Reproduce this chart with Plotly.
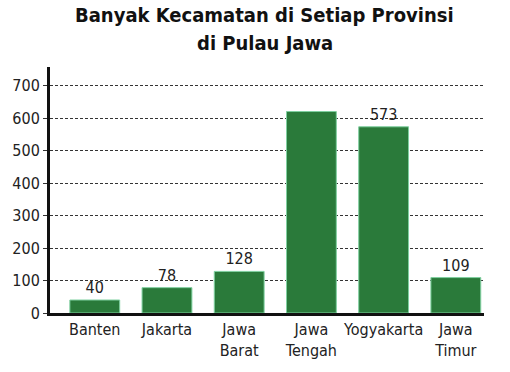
import plotly.graph_objects as go

categories = ["Banten", "Jakarta", "Jawa<br>Barat", "Jawa<br>Tengah", "Yogyakarta", "Jawa<br>Timur"]
values = [40, 78, 128, 620, 573, 109]
labels = ["40", "78", "128", "", "573", "109"]
y_ticks = [0, 100, 200, 300, 400, 500, 600, 700]
title_lines = ["Banyak Kecamatan di Setiap Provinsi", "di Pulau Jawa"]

narrow = "DejaVu Sans Condensed, Liberation Sans Narrow, sans-serif"

fig = go.Figure(go.Bar(
    x=list(range(len(categories))),
    y=values,
    text=labels,
    textposition="outside",
    cliponaxis=False,
    textfont=dict(family=narrow, size=16, color="#222222"),
    marker=dict(color="#2a7a3a", line=dict(color="#7fd0a0", width=1)),
    width=0.69,
))

for i, (line, yy) in enumerate(zip(title_lines, [1.212, 1.097])):
    fig.add_annotation(
        text="<b>" + line + "</b>", xref="paper", yref="paper",
        x=0.495, y=yy, xanchor="center", yanchor="middle", showarrow=False,
        font=dict(family="DejaVu Sans Condensed, sans-serif", size=20, color="#111111"),
    )

fig.update_layout(
    width=510, height=372,
    margin=dict(l=42, r=26, t=67, b=58),
    paper_bgcolor="white", plot_bgcolor="white",
    showlegend=False,
    xaxis=dict(
        tickmode="array", tickvals=list(range(len(categories))), ticktext=categories,
        range=[-0.62, 5.39],
        showline=True, linecolor="#111111", linewidth=3,
        ticks="", showgrid=False, zeroline=False,
        tickfont=dict(family=narrow, size=16, color="#222222"),
    ),
    yaxis=dict(
        range=[0, 757],
        tickmode="array", tickvals=y_ticks,
        showline=True, linecolor="#111111", linewidth=3,
        ticks="outside", ticklen=4, tickwidth=1, tickcolor="#333333",
        showgrid=True, gridcolor="#333333", gridwidth=1, griddash="3px,2px",
        zeroline=False,
        tickfont=dict(family=narrow, size=16, color="#222222"),
    ),
)

fig.write_html("out.html")
